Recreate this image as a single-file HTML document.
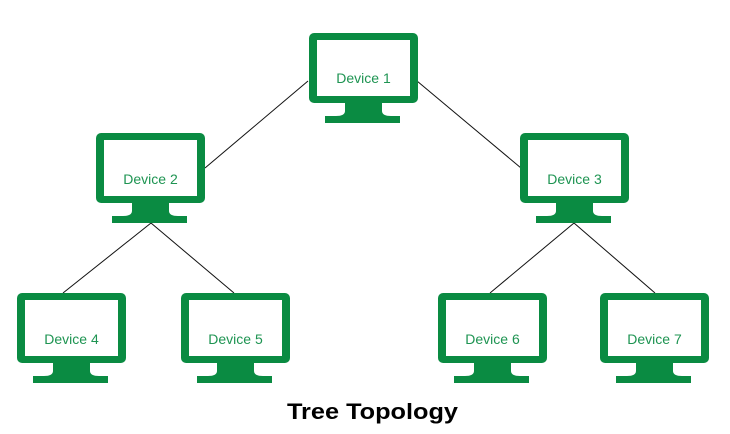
<!DOCTYPE html>
<html><head><style>html,body{margin:0;padding:0;background:#fff;width:730px;height:434px;overflow:hidden}</style></head>
<body>
<svg width="730" height="434" viewBox="0 0 730 434" xmlns="http://www.w3.org/2000/svg">
<defs>
<g id="m">
<rect x="0" y="0" width="109" height="70" rx="5" fill="#0a8b42"/>
<rect x="8" y="7" width="93" height="56" fill="#fff"/>
<path d="M36 70 H73 V78 Q73 83 82 83 H91 V90 H16 V83 H27 Q36 83 36 78 Z" fill="#0a8b42"/>
</g>
</defs>
<g stroke="#111" stroke-width="1" fill="none">
<line x1="308" y1="81" x2="205" y2="168"/>
<line x1="417" y1="81" x2="521" y2="168"/>
<line x1="151" y1="223" x2="63" y2="293"/>
<line x1="151" y1="223" x2="234" y2="293"/>
<line x1="574" y1="223" x2="490" y2="293"/>
<line x1="574" y1="223" x2="655" y2="293"/>
</g>
<use href="#m" x="309" y="33"/>
<use href="#m" x="96" y="133"/>
<use href="#m" x="520" y="133"/>
<use href="#m" x="17" y="293"/>
<use href="#m" x="181" y="293"/>
<use href="#m" x="438" y="293"/>
<use href="#m" x="600" y="293"/>
<g font-family="Liberation Sans, sans-serif" font-size="14" fill="#1e9452" text-anchor="middle">
<text x="363.5" y="83">Device 1</text>
<text x="150.5" y="184">Device 2</text>
<text x="574.5" y="184">Device 3</text>
<text x="71.5" y="344">Device 4</text>
<text x="235.5" y="344">Device 5</text>
<text x="492.5" y="344">Device 6</text>
<text x="654.5" y="344">Device 7</text>
</g>
<text x="287" y="419" font-family="Liberation Sans, sans-serif" font-weight="bold" font-size="22" fill="#000" textLength="171" lengthAdjust="spacingAndGlyphs">Tree Topology</text>
</svg>
</body></html>
